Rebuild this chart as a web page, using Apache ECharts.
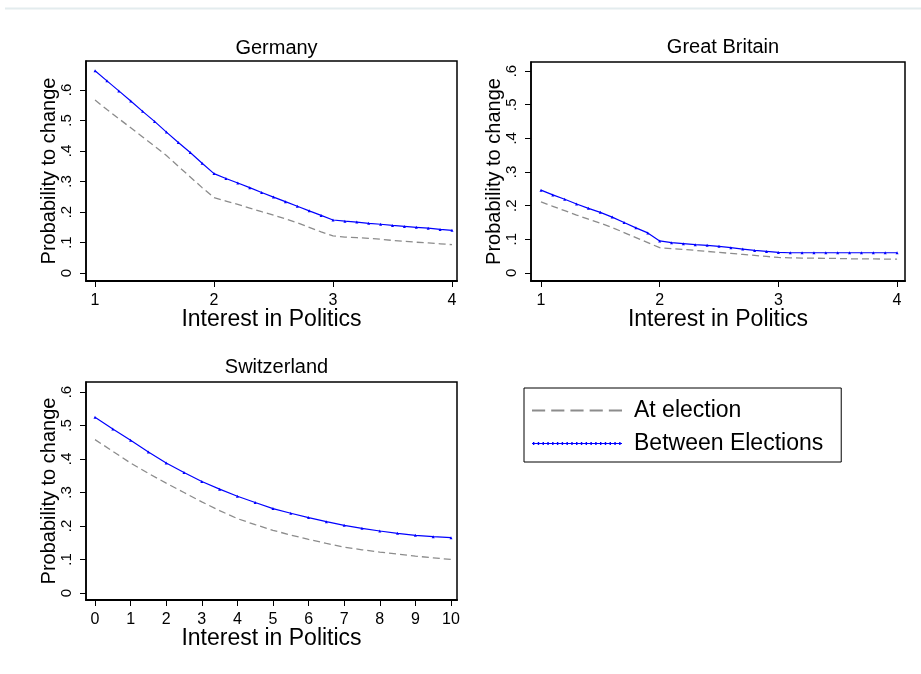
<!DOCTYPE html>
<html>
<head>
<meta charset="utf-8">
<script src="https://cdn.jsdelivr.net/npm/echarts@6/dist/echarts.min.js"></script>
<style>
html,body{margin:0;padding:0;background:#fff;}
#chart{width:921px;height:674px;}
</style>
</head>
<body>
<div id="chart"></div>
<script>
// ---- data ----
const panelTitles = ['Germany', 'Great Britain', 'Switzerland'];
const seriesNames = ['At election', 'Between Elections'];
const yTicks = [0, 0.1, 0.2, 0.3, 0.4, 0.5, 0.6];
const xTicks4 = [1, 2, 3, 4];
const xTicks10 = [0, 1, 2, 3, 4, 5, 6, 7, 8, 9, 10];

const xInterest4 = [1.0,1.1,1.2,1.3,1.4,1.5,1.6,1.7,1.8,1.9,2.0,2.1,2.2,2.3,2.4,2.5,2.6,2.7,2.8,2.9,3.0,3.1,3.2,3.3,3.4,3.5,3.6,3.7,3.8,3.9,4.0];
const xInterest10 = [0,0.5,1,1.5,2,2.5,3,3.5,4,4.5,5,5.5,6,6.5,7,7.5,8,8.5,9,9.5,10];

const germanyAt = [0.567,0.536,0.506,0.476,0.446,0.416,0.385,0.350,0.315,0.280,0.247,0.236,0.225,0.213,0.201,0.190,0.178,0.165,0.150,0.135,0.122,0.118,0.116,0.114,0.111,0.107,0.104,0.101,0.099,0.096,0.093];
const germanyBetween = [0.663,0.630,0.597,0.564,0.530,0.497,0.462,0.428,0.395,0.360,0.326,0.310,0.295,0.280,0.264,0.249,0.234,0.219,0.204,0.189,0.174,0.170,0.167,0.163,0.160,0.156,0.153,0.150,0.147,0.143,0.140];

const britainAt = [0.211,0.198,0.185,0.172,0.160,0.148,0.135,0.120,0.105,0.090,0.075,0.072,0.070,0.067,0.064,0.061,0.058,0.055,0.052,0.049,0.046,0.045,0.044,0.044,0.043,0.043,0.042,0.042,0.042,0.041,0.041];
const britainBetween = [0.246,0.232,0.219,0.205,0.192,0.180,0.166,0.150,0.134,0.119,0.095,0.090,0.087,0.084,0.082,0.079,0.075,0.071,0.067,0.064,0.061,0.060,0.060,0.060,0.060,0.060,0.060,0.060,0.060,0.060,0.060];

const swissAt = [0.458,0.423,0.388,0.357,0.328,0.300,0.272,0.246,0.222,0.204,0.187,0.173,0.160,0.148,0.137,0.129,0.122,0.116,0.110,0.105,0.100];
const swissBetween = [0.525,0.490,0.456,0.421,0.388,0.360,0.333,0.310,0.289,0.270,0.252,0.238,0.225,0.213,0.202,0.193,0.185,0.178,0.172,0.168,0.165];

// ---- layout ----
const FONT = 'Liberation Sans, Arial, sans-serif';
const grids = [
  {left: 86, top: 61, width: 371, height: 220},
  {left: 531, top: 62, width: 374, height: 219},
  {left: 86, top: 382, width: 371, height: 218}
];
const titleTops = [33, 32, 352];
const xRanges = [[0.924, 4.042], [0.916, 4.067], [-0.253, 10.169]];
const yRanges = [[-0.026, 0.695], [-0.024, 0.627], [-0.021, 0.630]];
const xTickSets = [xTicks4, xTicks4, xTicks10];

function zip(xs, ys){ return xs.map((x,i)=>[x, ys[i]]); }
const panelData = [
  [zip(xInterest4, germanyAt), zip(xInterest4, germanyBetween)],
  [zip(xInterest4, britainAt), zip(xInterest4, britainBetween)],
  [zip(xInterest10, swissAt), zip(xInterest10, swissBetween)]
];

// legend icons (drawn as paths: dashed grey, dotted blue)
let dashPath = 'path://';
for (let k = 0; k < 5; k++) { const x0 = k * 19; dashPath += 'M' + x0 + ',0h13v2h-13z'; }
let dotPath = 'path://M0,1h94v1h-94z';
for (let k = 0; k < 19; k++) { const x0 = k * 5 + 1; dotPath += 'M' + x0 + ',0h1.5v3h-1.5z'; }

const chart = echarts.init(document.getElementById('chart'), null, {renderer: 'canvas'});

const option = {
  animation: false,
  backgroundColor: '#ffffff',
  title: panelTitles.map((t, i) => ({
    text: t,
    left: grids[i].left + grids[i].width / 2,
    top: titleTops[i],
    textAlign: 'center',
    textStyle: {fontFamily: FONT, fontSize: 20, fontWeight: 'normal', color: '#000'}
  })),
  grid: grids.map(g => ({
    left: g.left, top: g.top, width: g.width, height: g.height,
    show: true, borderColor: '#000', borderWidth: 1.5, backgroundColor: 'transparent',
    containLabel: false
  })),
  xAxis: grids.map((g, i) => ({
    type: 'value', gridIndex: i,
    min: xRanges[i][0], max: xRanges[i][1],
    name: 'Interest in Politics', nameLocation: 'middle', nameGap: 27, nameMoveOverlap: false,
    nameTextStyle: {fontFamily: FONT, fontSize: 23, color: '#000'},
    axisLine: {show: true, onZero: false, lineStyle: {color: '#000', width: 2}},
    axisTick: {show: true, inside: false, length: 6, customValues: xTickSets[i], lineStyle: {color: '#000', width: 1}},
    axisLabel: {show: true, customValues: xTickSets[i], margin: 12, fontFamily: FONT, fontSize: 16, color: '#000'},
    splitLine: {show: false}
  })),
  yAxis: grids.map((g, i) => ({
    type: 'value', gridIndex: i,
    min: yRanges[i][0], max: yRanges[i][1],
    name: 'Probability to change', nameLocation: 'middle', nameGap: 27, nameMoveOverlap: false,
    nameTextStyle: {fontFamily: FONT, fontSize: 20, color: '#000'},
    axisLine: {show: true, onZero: false, lineStyle: {color: '#000', width: 1.5}},
    axisTick: {show: true, inside: false, length: 6, customValues: yTicks, lineStyle: {color: '#000', width: 1}},
    axisLabel: {show: true, customValues: yTicks, rotate: 90, margin: 12, fontFamily: FONT, fontSize: 15, color: '#000',
      formatter: v => (Math.abs(v) < 1e-9 ? '0' : '.' + Math.round(v * 10))},
    splitLine: {show: false}
  })),
  legend: {
    orient: 'vertical',
    left: 524, top: 388,
    padding: [11, 18, 7, 8],
    itemGap: 10,
    itemWidth: 90, itemHeight: 3,
    borderColor: '#000', borderWidth: 1, borderRadius: 0,
    textStyle: {fontFamily: FONT, fontSize: 23, color: '#000', padding: [0,0,0,7]},
    data: [
      {name: seriesNames[0], icon: dashPath, itemStyle: {color: '#8c8c8c'}},
      {name: seriesNames[1], icon: dotPath, itemStyle: {color: '#0000ff'}}
    ]
  },
  graphic: [{
    type: 'line', silent: true,
    shape: {x1: 5, y1: 8.5, x2: 921, y2: 8.5},
    style: {stroke: '#e3ecee', lineWidth: 2}
  }],
  series: []
};

panelData.forEach((pair, i) => {
  option.series.push({
    name: seriesNames[0], type: 'line', xAxisIndex: i, yAxisIndex: i,
    data: pair[0], showSymbol: false, symbol: 'none',
    lineStyle: {color: '#8c8c8c', width: 1.3, type: [7, 4]},
    itemStyle: {color: '#8c8c8c'}
  });
  option.series.push({
    name: seriesNames[1], type: 'line', xAxisIndex: i, yAxisIndex: i,
    data: pair[1], showSymbol: true, symbol: 'triangle', symbolSize: 3,
    lineStyle: {color: '#0000ff', width: 1.2},
    itemStyle: {color: '#0000ff'}
  });
});

chart.setOption(option);
</script>
</body>
</html>
